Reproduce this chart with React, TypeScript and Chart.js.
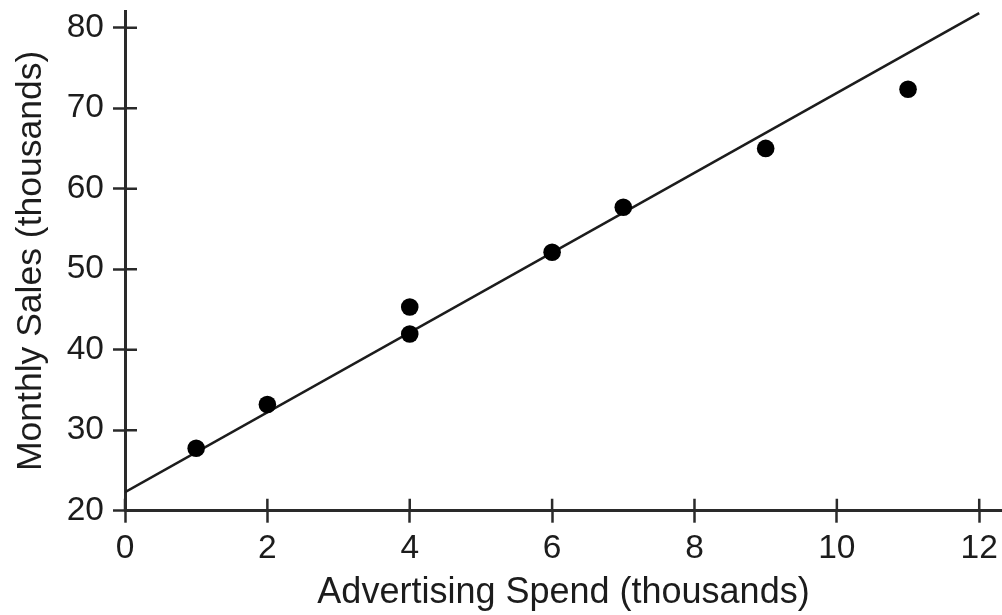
import React, { useEffect, useRef } from "react";
import { Chart, registerables } from "chart.js";

Chart.register(...registerables);

// Data
const spendX = [1, 2, 4, 4, 6, 7, 9, 11];
const salesY = [27.75, 33.2, 45.3, 41.95, 52.1, 57.7, 65.0, 72.35];
const fitX = [0, 12];
const fitY = [22.3, 81.8];
const xTickValues = [0, 2, 4, 6, 8, 10, 12];
const yTickValues = [20, 30, 40, 50, 60, 70, 80];
const xTitle = "Advertising Spend (thousands)";
const yTitle = "Monthly Sales (thousands)";

const INK = "#1c1c1c";
const AXIS = "#2a2a2a";
const FONT = "'Liberation Sans', Arial, Helvetica, sans-serif";
const TICK_LEN = 12;

const innerTicks = {
  id: "innerTicks",
  afterDraw(chart: any) {
    const { ctx, chartArea, scales } = chart;
    ctx.save();
    ctx.strokeStyle = AXIS;
    ctx.lineWidth = 2.5;
    ctx.beginPath();
    scales.x.ticks.forEach((t: any) => {
      const px = scales.x.getPixelForValue(t.value);
      ctx.moveTo(px, chartArea.bottom);
      ctx.lineTo(px, chartArea.bottom - TICK_LEN);
    });
    scales.y.ticks.forEach((t: any) => {
      const py = scales.y.getPixelForValue(t.value);
      ctx.moveTo(chartArea.left, py);
      ctx.lineTo(chartArea.left + TICK_LEN, py);
    });
    ctx.stroke();
    ctx.restore();
  },
};

export default function App() {
  const ref = useRef<HTMLCanvasElement>(null);

  useEffect(() => {
    if (!ref.current) return;
    const chart = new Chart(ref.current, {
      type: "scatter",
      data: {
        datasets: [
          {
            type: "line",
            data: fitX.map((x, i) => ({ x, y: fitY[i] })),
            borderColor: INK,
            borderWidth: 2.6,
            pointRadius: 0,
            fill: false,
            order: 2,
          } as any,
          {
            type: "scatter",
            data: spendX.map((x, i) => ({ x, y: salesY[i] })),
            backgroundColor: "#000",
            borderWidth: 0,
            pointRadius: 8.8,
            order: 1,
          },
        ],
      },
      plugins: [innerTicks],
      options: {
        responsive: false,
        animation: false,
        layout: {
          autoPadding: false,
          padding: { top: 11, right: 0, left: 0, bottom: 0 },
        },
        plugins: {
          legend: { display: false },
          tooltip: { enabled: false },
        },
        scales: {
          x: {
            type: "linear",
            min: 0,
            max: 12.32,
            afterBuildTicks: (s: any) => {
              s.ticks = xTickValues.map((v) => ({ value: v }));
            },
            afterFit: (s: any) => {
              s.height = 104.3;
              s.paddingLeft = 0;
              s.paddingRight = 0;
            },
            grid: {
              display: true,
              drawOnChartArea: false,
              drawTicks: true,
              tickLength: TICK_LEN,
              tickWidth: 2.5,
              tickColor: AXIS,
            },
            border: { display: true, color: AXIS, width: 3 },
            ticks: {
              color: INK,
              font: { family: FONT, size: 33.5 },
              padding: 6,
              maxRotation: 0,
              autoSkip: false,
            },
            title: {
              display: true,
              text: xTitle,
              color: INK,
              font: { family: FONT, size: 36 },
              padding: { top: 0, bottom: 0 },
            },
          },
          y: {
            type: "linear",
            min: 20,
            max: 82.07,
            afterBuildTicks: (s: any) => {
              s.ticks = yTickValues.map((v) => ({ value: v }));
            },
            afterFit: (s: any) => {
              s.width = 125;
              s.paddingTop = 0;
              s.paddingBottom = 0;
            },
            grid: {
              display: true,
              drawOnChartArea: false,
              drawTicks: true,
              tickLength: TICK_LEN,
              tickWidth: 2.5,
              tickColor: AXIS,
            },
            border: { display: true, color: AXIS, width: 3 },
            ticks: {
              color: INK,
              font: { family: FONT, size: 33.5 },
              padding: 9,
              autoSkip: false,
            },
            title: {
              display: true,
              text: yTitle,
              color: INK,
              font: { family: FONT, size: 35.5 },
              padding: { top: 10, bottom: 0 },
            },
          },
        },
      },
    });
    return () => chart.destroy();
  }, []);

  return (
    <div
      style={{
        position: "fixed",
        left: 0,
        top: 0,
        width: 1002,
        height: 615,
        background: "#fff",
      }}
    >
      <canvas ref={ref} width={1002} height={615} />
    </div>
  );
}
